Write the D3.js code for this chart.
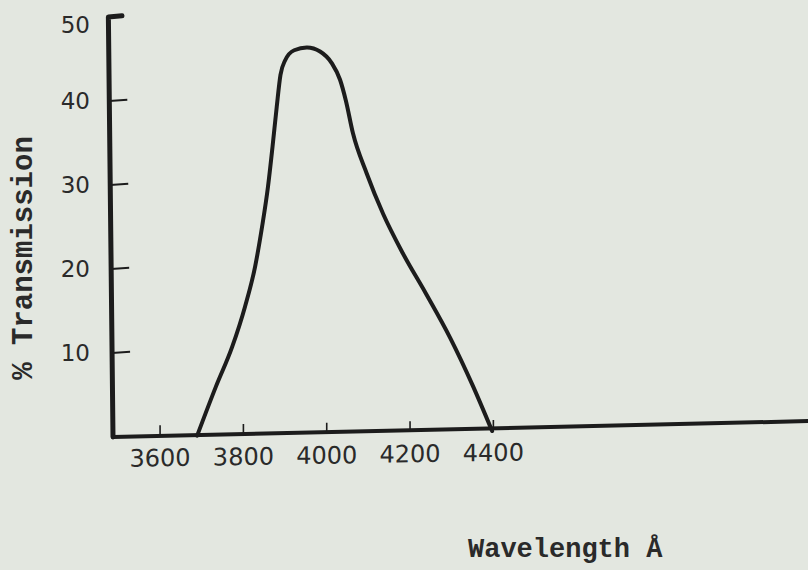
<!DOCTYPE html>
<html>
<head>
<meta charset="utf-8">
<script src="https://cdn.jsdelivr.net/npm/d3@7/dist/d3.min.js"></script>
<style>
  html, body { margin: 0; padding: 0; background: #e3e7e0; }
  svg { display: block; }
</style>
</head>
<body>
<script>
// ---- data ----
const wavelength = [3689, 3734, 3773, 3804, 3828, 3845, 3859, 3870, 3880, 3889, 3900, 3922, 3952, 3984, 4012, 4032, 4046, 4063, 4096, 4135, 4183, 4238, 4296, 4350, 4397];
const transmission = [0, 5.8, 10.5, 15.3, 20.0, 24.8, 29.5, 34.3, 39.0, 42.8, 44.5, 45.7, 46.0, 45.5, 44.1, 42.1, 39.6, 35.7, 30.9, 26.1, 21.3, 16.5, 11.2, 5.5, 0];
const xTicks = [3600, 3800, 4000, 4200, 4400];
const yTicks = [10, 20, 30, 40, 50];
const xTitle = "Wavelength Å";
const yTitle = "% Transmission";

const W = 808, H = 570;
const ox = 113, oy = 437;

const svg = d3.select("body").append("svg").attr("width", W).attr("height", H);
svg.append("rect").attr("width", W).attr("height", H).attr("fill", "#e3e7e0");

const x = d3.scaleLinear().domain([3487, 5160]).range([ox, W + 2]);
const y = d3.scaleLinear().domain([0, 50]).range([oy, 17]);

const ink = "#1c1c1c";
// paper is slightly skewed in the scan: baseline rises to the right
const g = svg.append("g")
  .attr("transform", `translate(${ox},${oy}) skewY(-0.9) translate(${-ox},${-oy})`);

const lean = 0.011; // y axis leans left toward the top
// y axis with hook at top
g.append("path")
  .attr("d", `M${ox},${oy} L${ox - (oy - y(50)) * lean},${y(50)} L${ox + 9},${y(50) - 1}`)
  .attr("fill", "none").attr("stroke", ink).attr("stroke-width", 5)
  .attr("stroke-linejoin", "round").attr("stroke-linecap", "round");

// x axis
g.append("line")
  .attr("x1", ox).attr("y1", oy).attr("x2", x.range()[1]).attr("y2", oy - 5)
  .attr("stroke", ink).attr("stroke-width", 4);

// y ticks
g.selectAll(".yt").data(yTicks.filter(d => d < 50)).enter().append("line")
  .attr("x1", d => ox - (oy - y(d)) * lean).attr("x2", d => ox + 18 - (oy - y(d)) * lean)
  .attr("y1", d => y(d)).attr("y2", d => y(d) - 1)
  .attr("stroke", ink).attr("stroke-width", 2);

// x ticks (upward)
g.selectAll(".xt").data(xTicks).enter().append("line")
  .attr("x1", d => x(d)).attr("x2", d => x(d))
  .attr("y1", oy - 2).attr("y2", oy - 11)
  .attr("stroke", ink).attr("stroke-width", 1.6);

// curve
const line = d3.line()
  .x((d, i) => x(wavelength[i]))
  .y(d => y(d))
  .curve(d3.curveMonotoneX);
g.append("path")
  .datum(transmission)
  .attr("d", line)
  .attr("fill", "none").attr("stroke", ink).attr("stroke-width", 4)
  .attr("stroke-linejoin", "round").attr("stroke-linecap", "round");

// tick labels
const labFont = "'DejaVu Sans', sans-serif";
svg.selectAll(".yl").data(yTicks).enter().append("text")
  .attr("x", 90)
  .attr("y", d => Math.max(y(d), 25))
  .attr("dy", "0.36em")
  .attr("text-anchor", "end")
  .attr("font-family", labFont).attr("font-size", 23)
  .attr("fill", "#2a2a2a")
  .text(d => d);

g.selectAll(".xl").data(xTicks).enter().append("text")
  .attr("x", d => x(d))
  .attr("y", oy + 30)
  .attr("text-anchor", "middle")
  .attr("font-family", labFont).attr("font-size", 24)
  .attr("fill", "#2a2a2a")
  .text(d => d);

// axis titles (typewriter)
const tw = "'Liberation Mono', 'DejaVu Sans Mono', monospace";
svg.append("text")
  .attr("transform", `translate(32, 258) rotate(-90)`)
  .attr("text-anchor", "middle")
  .attr("font-family", tw).attr("font-size", 29).attr("font-weight", "bold")
  .attr("fill", "#2a2a2a")
  .text(yTitle);

svg.append("text")
  .attr("x", 468).attr("y", 557)
  .attr("font-family", tw).attr("font-size", 27).attr("font-weight", "bold")
  .attr("fill", "#2a2a2a")
  .text(xTitle);
</script>
</body>
</html>
